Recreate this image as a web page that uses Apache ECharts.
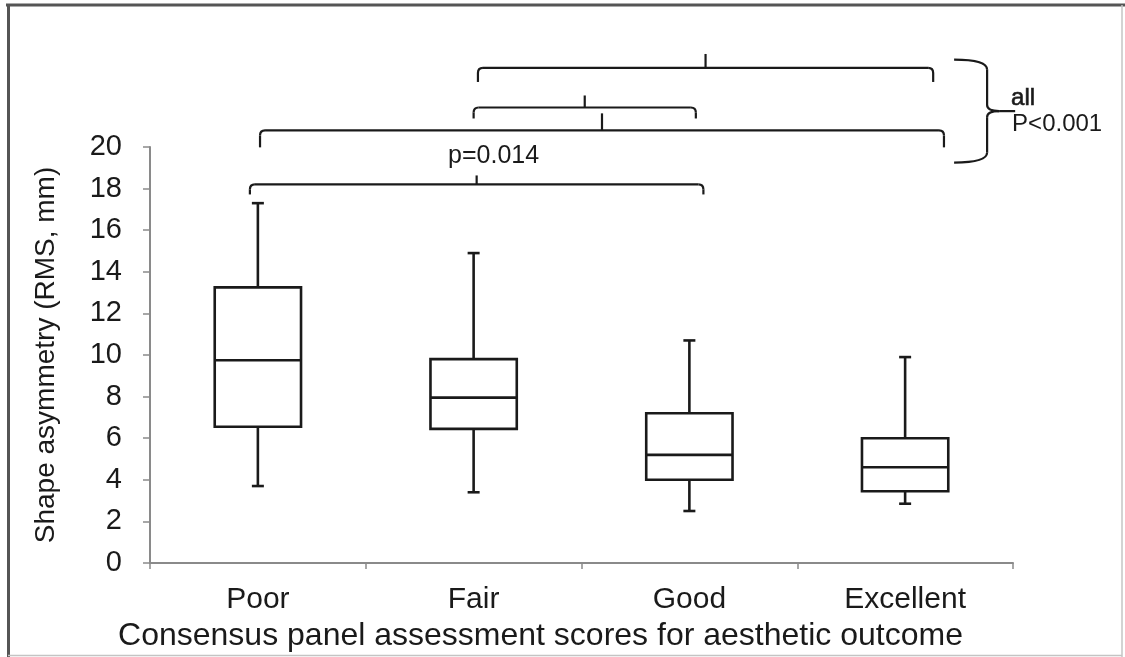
<!DOCTYPE html>
<html>
<head>
<meta charset="utf-8">
<script src="https://cdn.jsdelivr.net/npm/echarts@6/dist/echarts.min.js"></script>
<style>
  html, body { margin: 0; padding: 0; background: #fff; }
  #chart { width: 1125px; height: 657px; }
</style>
</head>
<body>
<div id="chart"></div>
<script>
  // box plot values
  const categories = ['Poor', 'Fair', 'Good', 'Excellent'];
  const whiskerLow = [3.7, 3.4, 2.5, 2.85];
  const quartile1 = [6.55, 6.45, 4.0, 3.45];
  const medians = [9.75, 7.95, 5.2, 4.6];
  const quartile3 = [13.25, 9.8, 7.2, 6.0];
  const whiskerHigh = [17.3, 14.9, 10.7, 9.9];

  // y axis ticks
  const yMin = 0;
  const yMax = 20;
  const yStep = 2;

  // significance brackets (category index from/to, height in mm)
  const bracketFrom = [0, 0, 1, 1];
  const bracketTo = [2, 3, 2, 3];
  const bracketLevel = [18.2, 20.8, 21.9, 23.8];
  const bracketLabel = ['p=0.014', '', '', ''];

  // the curly brace grouping the upper three brackets
  const braceSpan = [19.25, 24.2];
  const braceLabel = ['all', 'P<0.001'];

  const FONT = '"Liberation Sans", Arial, sans-serif';
  const INK = '#1a1a1a';

  const chart = echarts.init(document.getElementById('chart'));

  const boxData = categories.map((c, i) =>
    [i, whiskerLow[i], quartile1[i], medians[i], quartile3[i], whiskerHigh[i]]);

  const bracketData = bracketFrom.map((f, i) => [f, bracketTo[i], bracketLevel[i], i]);

  // end offsets (fraction of a category band), hook depth and tick height in px
  const bracketLayout = [
    { start: -0.037, end: 0.065, hook: 10, tick: 9 },
    { start: 0.01, end: 0.18, hook: 17, tick: 17 },
    { start: 0.0, end: 0.03, hook: 11, tick: 12 },
    { start: 0.02, end: 0.13, hook: 14, tick: 14 }
  ];

  function renderBox(params, api) {
    const i = api.value(0);
    const lo = api.coord([i, api.value(1)]);
    const q1 = api.coord([i, api.value(2)]);
    const md = api.coord([i, api.value(3)]);
    const q3 = api.coord([i, api.value(4)]);
    const hi = api.coord([i, api.value(5)]);
    const bw = api.size([1, 0])[0] * 0.4;
    const cap = 12;
    const x = lo[0];
    const st = { stroke: INK, lineWidth: 2.6 };
    return {
      type: 'group',
      children: [
        { type: 'line', shape: { x1: x, y1: hi[1], x2: x, y2: q3[1] }, style: st },
        { type: 'line', shape: { x1: x, y1: q1[1], x2: x, y2: lo[1] }, style: st },
        { type: 'line', shape: { x1: x - cap / 2, y1: hi[1], x2: x + cap / 2, y2: hi[1] }, style: st },
        { type: 'line', shape: { x1: x - cap / 2, y1: lo[1], x2: x + cap / 2, y2: lo[1] }, style: st },
        { type: 'rect', shape: { x: x - bw / 2, y: q3[1], width: bw, height: q1[1] - q3[1] },
          style: { stroke: INK, lineWidth: 2.6, fill: '#fff' } },
        { type: 'line', shape: { x1: x - bw / 2, y1: md[1], x2: x + bw / 2, y2: md[1] }, style: st }
      ]
    };
  }

  function renderBracket(params, api) {
    const k = api.value(3);
    const lay = bracketLayout[k];
    const band = api.size([1, 0])[0];
    const a = api.coord([api.value(0), api.value(2)]);
    const b = api.coord([api.value(1), api.value(2)]);
    const x1 = a[0] + lay.start * band;
    const x2 = b[0] + lay.end * band;
    const y = a[1];
    const xm = (x1 + x2) / 2;
    const r = 5;
    const st = { stroke: INK, lineWidth: 2.2, fill: null };
    const children = [
      { type: 'line', shape: { x1: x1, y1: y + lay.hook, x2: x1, y2: y + r }, style: st },
      { type: 'bezierCurve', shape: { x1: x1, y1: y + r, cpx1: x1, cpy1: y, x2: x1 + r, y2: y }, style: st },
      { type: 'line', shape: { x1: x1 + r, y1: y, x2: x2 - r, y2: y }, style: st },
      { type: 'bezierCurve', shape: { x1: x2 - r, y1: y, cpx1: x2, cpy1: y, x2: x2, y2: y + r }, style: st },
      { type: 'line', shape: { x1: x2, y1: y + r, x2: x2, y2: y + lay.hook }, style: st },
      { type: 'line', shape: { x1: xm, y1: y, x2: xm, y2: y - lay.tick }, style: st }
    ];
    const label = bracketLabel[k];
    if (label) {
      children.push({
        type: 'text',
        style: { text: label, x: xm + 17, y: y - 28, align: 'center', verticalAlign: 'middle',
          font: '25px ' + FONT, fill: INK }
      });
    }
    return { type: 'group', children: children };
  }

  function renderBrace(params, api) {
    const band = api.size([1, 0])[0];
    const bottom = api.coord([api.value(0), api.value(1)]);
    const top = api.coord([api.value(0), api.value(2)]);
    const x0 = bottom[0] + 0.227 * band;
    const x1 = bottom[0] + 0.38 * band;
    const xt = bottom[0] + 0.51 * band;
    const yt = top[1];
    const yb = bottom[1];
    const ym = (yt + yb) / 2;
    const st = { stroke: INK, lineWidth: 2.2, fill: null };
    return {
      type: 'group',
      children: [
        { type: 'bezierCurve', shape: { x1: x0, y1: yt, cpx1: x1, cpy1: yt, x2: x1, y2: yt + 10 }, style: st },
        { type: 'line', shape: { x1: x1, y1: yt + 10, x2: x1, y2: ym - 6 }, style: st },
        { type: 'bezierCurve', shape: { x1: x1, y1: ym - 6, cpx1: x1, cpy1: ym, x2: x1 + 12, y2: ym }, style: st },
        { type: 'line', shape: { x1: x1 + 12, y1: ym, x2: xt, y2: ym }, style: st },
        { type: 'bezierCurve', shape: { x1: x1 + 12, y1: ym, cpx1: x1, cpy1: ym, x2: x1, y2: ym + 6 }, style: st },
        { type: 'line', shape: { x1: x1, y1: ym + 6, x2: x1, y2: yb - 10 }, style: st },
        { type: 'bezierCurve', shape: { x1: x1, y1: yb - 10, cpx1: x1, cpy1: yb, x2: x0, y2: yb }, style: st },
        { type: 'text', style: { text: braceLabel[0], x: x1 + 24, y: ym - 13, align: 'left',
          verticalAlign: 'middle', font: '24px ' + FONT, fill: INK, stroke: INK, lineWidth: 0.6 } },
        { type: 'text', style: { text: braceLabel[1], x: x1 + 25, y: ym + 13, align: 'left',
          verticalAlign: 'middle', font: '24px ' + FONT, fill: INK } }
      ]
    };
  }

  const option = {
    backgroundColor: '#fff',
    animation: false,
    grid: { left: 150, right: 112, top: 147, bottom: 94, containLabel: false },
    xAxis: {
      type: 'category',
      data: categories,
      name: 'Consensus panel assessment scores for aesthetic outcome',
      nameLocation: 'middle',
      nameGap: 50,
      // padding on the right pulls the centred title leftwards, as in the original
      nameTextStyle: { fontSize: 32, fontFamily: FONT, color: INK, padding: [0, 82, 0, 0] },
      axisLine: { lineStyle: { color: '#8a8a8a', width: 2 } },
      axisTick: { show: true, length: 6, lineStyle: { color: '#8a8a8a', width: 1.5 } },
      axisLabel: { fontSize: 30, fontFamily: FONT, color: INK, margin: 22 },
      splitLine: { show: false }
    },
    yAxis: {
      type: 'value',
      min: yMin,
      max: yMax,
      interval: yStep,
      name: 'Shape asymmetry (RMS, mm)',
      nameLocation: 'middle',
      nameGap: 90,
      nameTextStyle: { fontSize: 28, fontFamily: FONT, color: INK },
      axisLine: { show: true, lineStyle: { color: '#8a8a8a', width: 2 } },
      axisTick: { show: true, length: 7, lineStyle: { color: '#8a8a8a', width: 1.5 } },
      axisLabel: { fontSize: 29, fontFamily: FONT, color: INK, margin: 28 },
      splitLine: { show: false }
    },
    graphic: [
      { type: 'line', shape: { x1: 6, y1: 5, x2: 1125, y2: 5 }, style: { stroke: '#555', lineWidth: 3 } },
      { type: 'line', shape: { x1: 8.5, y1: 4, x2: 8.5, y2: 657 }, style: { stroke: '#555', lineWidth: 3 } },
      { type: 'line', shape: { x1: 1122, y1: 5, x2: 1122, y2: 657 }, style: { stroke: '#c4c4c4', lineWidth: 1.5 } },
      { type: 'line', shape: { x1: 8, y1: 655.5, x2: 1122, y2: 655.5 }, style: { stroke: '#c4c4c4', lineWidth: 1.5 } }
    ],
    series: [
      {
        type: 'custom',
        name: 'box',
        renderItem: renderBox,
        encode: { x: 0, y: [1, 2, 3, 4, 5] },
        data: boxData,
        z: 3
      },
      {
        type: 'custom',
        name: 'brackets',
        renderItem: renderBracket,
        encode: { x: 0, y: 2 },
        clip: false,
        data: bracketData,
        z: 4
      },
      {
        type: 'custom',
        name: 'brace',
        renderItem: renderBrace,
        encode: { x: 0, y: 1 },
        clip: false,
        data: [[3, braceSpan[0], braceSpan[1]]],
        z: 4
      }
    ]
  };

  chart.setOption(option);
</script>
</body>
</html>
